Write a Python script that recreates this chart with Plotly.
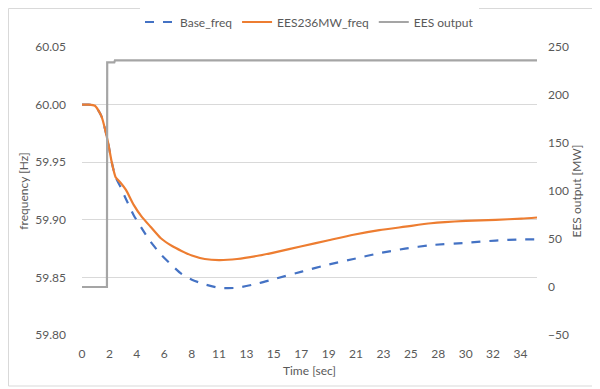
import plotly.graph_objects as go

# ---- data ----
t_freq = [0, 0.5, 1.0, 1.5, 2.0, 2.3, 2.6, 3.0, 3.4, 4.0, 4.6, 5.3, 6.1, 7.0, 7.7, 8.5, 9.5,
          10.6, 12, 13.7, 15, 17, 19, 21, 23, 25, 27, 29.7, 32, 34, 35.2]
base_freq = [60.000, 60.000, 59.999, 59.990, 59.968, 59.950, 59.937, 59.928, 59.918, 59.904,
             59.893, 59.881, 59.870, 59.860, 59.853, 59.848, 59.844, 59.841, 59.841, 59.845,
             59.849, 59.855, 59.861, 59.866, 59.871, 59.875, 59.878, 59.880, 59.882, 59.883, 59.883]
ees_freq = [60.000, 60.000, 59.999, 59.990, 59.968, 59.950, 59.937, 59.932, 59.926, 59.913,
            59.903, 59.894, 59.884, 59.877, 59.873, 59.869, 59.866, 59.865, 59.866, 59.869,
            59.872, 59.877, 59.882, 59.887, 59.891, 59.894, 59.897, 59.899, 59.900, 59.901, 59.902]
t_ees = [0, 1.93, 1.95, 2.5, 2.55, 35.2]
ees_output = [0, 0, 234, 234, 236, 236]

x_tick_vals = [i * 2.12 for i in range(17)]
x_tick_text = ["0", "2", "4", "6", "8", "11", "13", "15", "17", "19", "21", "23", "25",
               "28", "30", "32", "34"]
y_left_ticks = [59.80, 59.85, 59.90, 59.95, 60.00, 60.05]
y_right_ticks = [-50, 0, 50, 100, 150, 200, 250]

FONT = "Lato"
GREY = "#595959"

fig = go.Figure()
fig.add_trace(go.Scatter(x=t_freq, y=base_freq, name="Base_freq", mode="lines",
                         line=dict(color="#4472C4", width=2.2, dash="dash", shape="spline", smoothing=0.6)))
fig.add_trace(go.Scatter(x=t_freq, y=ees_freq, name="EES236MW_freq", mode="lines",
                         line=dict(color="#ED7D31", width=2.2, shape="spline", smoothing=0.6)))
fig.add_trace(go.Scatter(x=t_ees, y=ees_output, name="EES output", mode="lines", yaxis="y2",
                         line=dict(color="#A5A5A5", width=2.2)))

# page body has an 8px margin, so figure coords = window coords - 8
W, H = 592, 381
L, R, T, B = 74, 63, 39, 54
pw, ph = W - L - R, H - T - B

fig.update_layout(
    width=W, height=H,
    margin=dict(l=L, r=R, t=T, b=B, autoexpand=False),
    paper_bgcolor="white", plot_bgcolor="white",
    font=dict(family=FONT, size=12, color=GREY),
    showlegend=True,
    legend=dict(orientation="h", x=0.5, xanchor="center", y=1.0 + 25 / ph, yanchor="middle",
                font=dict(size=12, color=GREY), traceorder="normal"),
    xaxis=dict(range=[0, 35.2], tickvals=x_tick_vals, ticktext=x_tick_text, showgrid=False,
               zeroline=False, showline=False, ticks="", automargin=False, ticklabelstandoff=10,
               title=dict(text="Time [sec]", font=dict(size=12, color=GREY), standoff=6)),
    yaxis=dict(range=[59.80, 60.05], tickvals=y_left_ticks, tickformat=".2f", automargin=False,
               showgrid=True, gridcolor="#D9D9D9", gridwidth=1, zeroline=False, showline=False,
               ticklabelstandoff=15,
               title=dict(text="frequency [Hz]", font=dict(size=12, color=GREY), standoff=4)),
    yaxis2=dict(range=[-50, 250], tickvals=y_right_ticks, overlaying="y", side="right",
                automargin=False, ticklabelstandoff=10,
                showgrid=False, zeroline=False, showline=False,
                title=dict(text="EES output [MW]", font=dict(size=12, color=GREY), standoff=4)),
    shapes=[dict(type="rect", xref="paper", yref="paper",
                 x0=(0.5 - L) / pw, x1=(589 - L) / pw,
                 y0=(H - B - 378) / ph, y1=(H - B - 0.5) / ph,
                 line=dict(color="#D9D9D9", width=1), fillcolor="rgba(0,0,0,0)", layer="below")],
)

fig.write_html("out.html")
